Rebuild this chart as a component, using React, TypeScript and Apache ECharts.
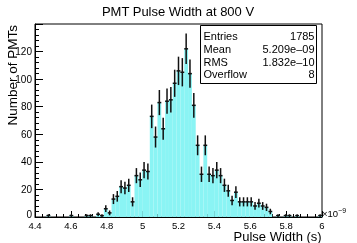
import React, { useEffect, useRef } from "react";
import * as echarts from "echarts";

// Histogram definition
const xMin = 4.4;
const xMax = 6.0;
const nBins = 75;
const counts = [
  0, 0, 0, 1, 0, 0, 0, 0, 0, 1,
  0, 0, 0, 1, 1, 0, 2, 1, 6, 3,
  13, 15, 22, 21, 23, 11, 30, 27, 34, 33,
  73, 58, 83, 64, 84, 85, 97, 106, 105, 122,
  104, 81, 52, 31, 52, 31, 30, 34, 30, 23,
  19, 12, 18, 11, 11, 11, 11, 8, 10, 8,
  7, 4, 0, 1, 0, 1, 1, 0, 1, 0,
  0, 0, 0, 0, 1,
];
const yMin = 0;
const yMax = 140;
const yInterval = 20;
const xInterval = 0.2;

const titleText = "PMT Pulse Width at 800 V";
const xTitle = "Pulse Width (s)";
const yTitle = "Number of PMTs";
const statLabels = ["Entries", "Mean", "RMS", "Overflow"];
const statValues = ["1785", "5.209e\u201309", "1.832e\u201310", "8"];

const FONT = "'Liberation Sans', Arial, Helvetica, sans-serif";

export default function App() {
  const ref = useRef<HTMLDivElement>(null);
  useEffect(() => {
    const chart = echarts.init(ref.current!, null, { renderer: "svg" });
    const w = (xMax - xMin) / nBins;
    const binData = counts.map((c, i) => [xMin + i * w, xMin + (i + 1) * w, c]);
    const errData = binData.filter((d) => d[2] > 0);

    const rowsY = [36, 48.8, 61.6, 74.4];

    chart.setOption({
      animation: false,
      grid: {
        left: 35,
        top: 24,
        width: 287,
        height: 193,
        show: true,
        borderColor: "#000",
        borderWidth: 1,
        backgroundColor: "transparent",
      },
      xAxis: {
        type: "value",
        min: xMin,
        max: xMax,
        interval: xInterval,
        axisLine: { show: true, onZero: false, lineStyle: { color: "#000", width: 1 } },
        axisTick: { show: true, inside: true, length: 6, lineStyle: { color: "#000" } },
        minorTick: { show: true, splitNumber: 5, length: 3, lineStyle: { color: "#000" } },
        splitLine: { show: false },
        axisLabel: {
          color: "#000",
          fontSize: 9.5,
          fontFamily: FONT,
          margin: 3,
          showMinLabel: true,
          showMaxLabel: true,
          formatter: (v: number) => String(Math.round(v * 10) / 10),
        },
      },
      yAxis: {
        type: "value",
        min: yMin,
        max: yMax,
        interval: yInterval,
        axisLine: { show: true, lineStyle: { color: "#000", width: 1 } },
        axisTick: { show: true, inside: true, length: 8, lineStyle: { color: "#000" } },
        minorTick: { show: true, splitNumber: 5, length: 4, lineStyle: { color: "#000" } },
        splitLine: { show: false },
        axisLabel: {
          color: "#000",
          fontSize: 10,
          fontFamily: FONT,
          margin: 3,
          showMaxLabel: false,
          formatter: (v: number) => (v === 0 ? "{z|0}" : String(v)),
          rich: { z: { fontSize: 10, fontFamily: FONT, color: "#000", padding: [0, 0, 6, 0] } },
        },
      },
      series: [
        {
          type: "custom",
          silent: true,
          data: binData,
          encode: { x: [0, 1], y: 2 },
          z: 1,
          renderItem: (params: any, api: any) => {
            const p0 = api.coord([api.value(0), 0]);
            const p1 = api.coord([api.value(1), api.value(2)]);
            return {
              type: "rect",
              shape: { x: p0[0], y: p1[1], width: p1[0] - p0[0], height: p0[1] - p1[1] },
              style: { fill: "#8af4f4", stroke: null },
            };
          },
        },
        {
          type: "custom",
          silent: true,
          data: errData,
          encode: { x: [0, 1], y: 2 },
          z: 3,
          renderItem: (params: any, api: any) => {
            const lo = api.value(0);
            const hi = api.value(1);
            const v = api.value(2);
            const e = Math.sqrt(v);
            const c = (lo + hi) / 2;
            const a = api.coord([lo, v]);
            const b = api.coord([hi, v]);
            const t = api.coord([c, v + e]);
            const bt = api.coord([c, Math.max(0, v - e)]);
            return {
              type: "group",
              children: [
                { type: "line", shape: { x1: a[0], y1: a[1], x2: b[0], y2: b[1] }, style: { stroke: "#111", lineWidth: 1.5 } },
                { type: "line", shape: { x1: t[0], y1: t[1], x2: bt[0], y2: bt[1] }, style: { stroke: "#111", lineWidth: 1.5 } },
              ],
            };
          },
        },
      ],
      graphic: [
        {
          type: "text", x: 178, y: 11, z: 100,
          style: { text: titleText, fill: "#000", font: `13px ${FONT}`, textAlign: "center", textVerticalAlign: "middle" },
        },
        {
          type: "text", x: 12, y: 25, rotation: Math.PI / 2, z: 100,
          style: { text: yTitle, fill: "#000", font: `13.5px ${FONT}`, textAlign: "right", textVerticalAlign: "middle" },
        },
        {
          type: "text", x: 321.7, y: 236.5, z: 100,
          style: { text: xTitle, fill: "#000", font: `13px ${FONT}`, textAlign: "right", textVerticalAlign: "middle" },
        },
        {
          type: "text", x: 322, y: 212, z: 100,
          style: {
            text: "{a|\u00d710}{b|\u22129}",
            fill: "#000",
            textAlign: "left",
            textVerticalAlign: "middle",
            rich: {
              a: { fontSize: 9.5, fontFamily: FONT, fill: "#000", padding: [3, 0, 0, 0] },
              b: { fontSize: 7, fontFamily: FONT, fill: "#000", padding: [0, 0, 4, 0] },
            },
          },
        },
        {
          type: "rect", z: 100,
          shape: { x: 200.5, y: 25.5, width: 116, height: 58 },
          style: { fill: "#fff", stroke: "#000", lineWidth: 1 },
        },
        ...statLabels.map((s, i) => ({
          type: "text", x: 203.5, y: rowsY[i], z: 101,
          style: { text: s, fill: "#000", font: `11px ${FONT}`, textAlign: "left", textVerticalAlign: "middle" },
        })),
        ...statValues.map((s, i) => ({
          type: "text", x: 314.5, y: rowsY[i], z: 101,
          style: { text: s, fill: "#000", font: `11px ${FONT}`, textAlign: "right", textVerticalAlign: "middle" },
        })),
      ],
    });
    return () => chart.dispose();
  }, []);
  return <div ref={ref} style={{ position: "fixed", left: 0, top: 0, width: 357, height: 243 }} />;
}
